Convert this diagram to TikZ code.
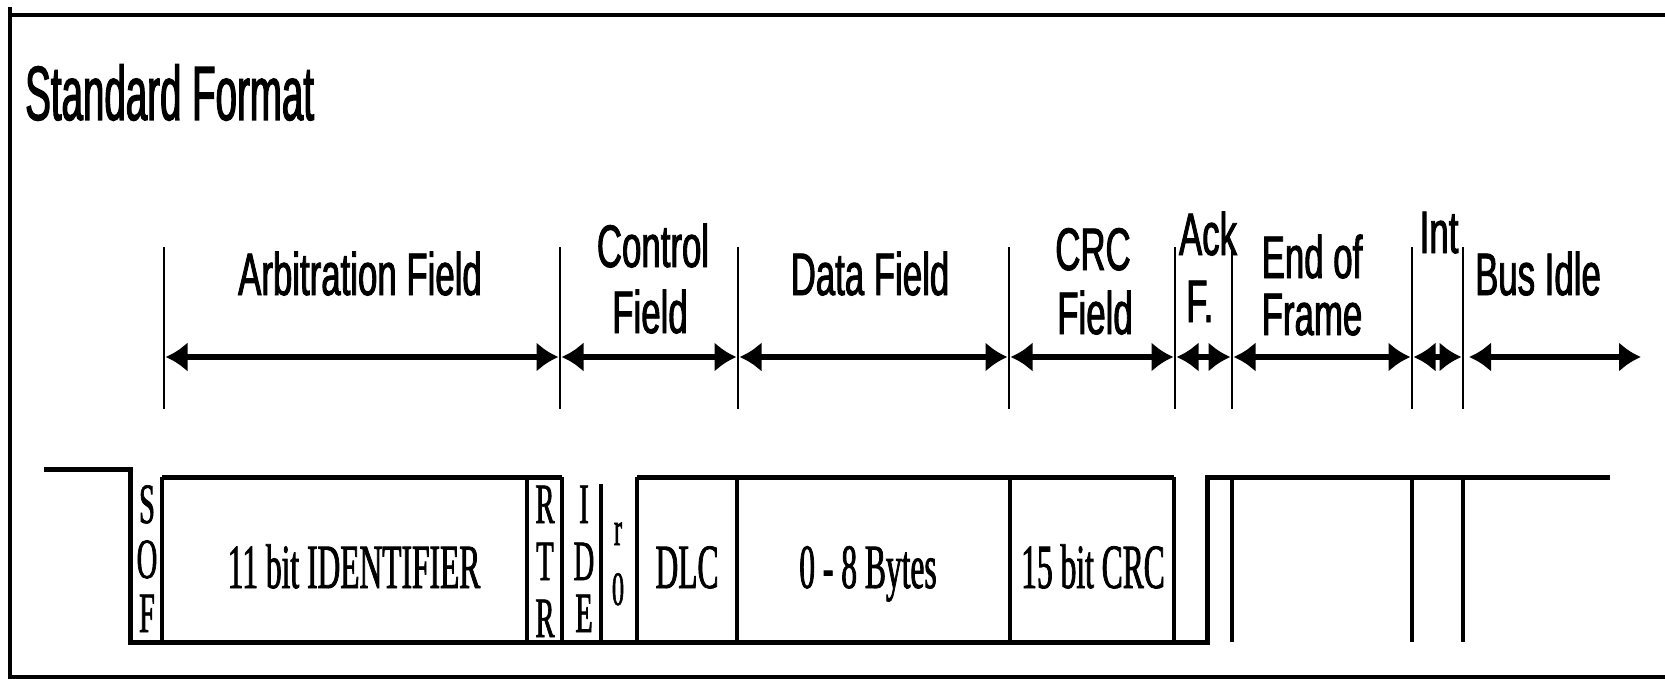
\documentclass[tikz,border=0pt]{standalone}
\usepackage{fontspec}
\newfontfamily\titlefont[FakeStretch=0.5,FakeBold=1.5]{Liberation Sans}
\newfontfamily\lblfont[FakeStretch=0.58,FakeBold=1.5]{Liberation Sans}
\newfontfamily\boxfont[FakeStretch=0.5,FakeBold=1.2]{Liberation Serif}
\usetikzlibrary{arrows.meta}
\begin{document}
\begin{tikzpicture}[x=1pt,y=-1pt,
  frameline/.style={line width=4.5pt},
  tickline/.style={line width=2.5pt},
  wave/.style={line width=5pt},
  sepline/.style={line width=3.5pt},
  span/.style={line width=6pt,{Latex[length=22pt,width=30pt]}-{Latex[length=22pt,width=30pt]}},
  lbl/.style={font=\lblfont\fontsize{60}{62}\selectfont,inner sep=0pt,anchor=base},
  boxtxt/.style={font=\boxfont\fontsize{63}{65}\selectfont,inner sep=0pt,anchor=base},
  letter/.style={font=\boxfont\fontsize{57}{60}\selectfont,inner sep=0pt,anchor=base},
  small/.style={font=\boxfont\fontsize{48}{50}\selectfont,inner sep=0pt,anchor=base},
]
\useasboundingbox (0,0) rectangle (1665,679);
% frame
\draw[frameline] (10,7) -- (10,679);
\draw[frameline] (8,15) -- (1665,15);
\draw[frameline] (8,677) -- (1665,677);
% title
\node[font=\titlefont\fontsize{77}{80}\selectfont,inner sep=0pt,anchor=base west] (title) at (25,120) {Standard Format};
% tick marks
\foreach \n/\x in {1/164,2/560,3/738,4/1009,5/1175,6/1232,7/1412,8/1463}{
  \coordinate (tt\n) at (\x,247);
  \coordinate (tb\n) at (\x,409);
  \coordinate (tl\n) at (\x+1.5,357);
  \coordinate (tr\n) at (\x-1.5,357);
  \draw[tickline] (tt\n) -- (tb\n);
}
\coordinate (busL) at (1469,357);
\coordinate (busR) at (1641,357);
% span arrows
\draw[span] (tl1) -- (tr2);
\draw[span] (tl2) -- (tr3);
\draw[span] (tl3) -- (tr4);
\draw[span] (tl4) -- (tr5);
\draw[span] (tl5) -- (tr6);
\draw[span] (tl6) -- (tr7);
\draw[span] (tl7) -- (tr8);
\draw[span] (busL) -- (busR);
% field labels
\node[lbl] (arb) at (360,295) {Arbitration Field};
\node[lbl] (ctl1) at (653,267) {Control};
\node[lbl] (ctl2) at (650,333) {Field};
\node[lbl] (data) at (870,295) {Data Field};
\node[lbl] (crc1) at (1093,270) {CRC};
\node[lbl] (crc2) at (1095,334) {Field};
\node[lbl] (ack1) at (1208,255) {Ack};
\node[lbl,anchor=base west] (ack2) at (1186,322) {F.};
\node[lbl] (eof1) at (1312,278) {End of};
\node[lbl] (eof2) at (1312,335) {Frame};
\node[lbl] (int) at (1439,253) {Int};
\node[lbl] (idle) at (1538,295) {Bus Idle};
% waveform
\coordinate (w0) at (44,469);
\coordinate (w1) at (130,469);
\coordinate (w2) at (130,642);
\coordinate (w3) at (1207,642);
\coordinate (w4) at (1207,477);
\coordinate (w5) at (1610,477);
\draw[wave,line join=miter] (w0) -- (w1) -- (w2) -- (w3) -- (w4) -- (w5);
\coordinate (b0) at (162,477);
\coordinate (b1) at (562,477);
\coordinate (b2) at (637,477);
\coordinate (b3) at (1174,477);
\draw[wave] (b0) -- (b1);
\draw[wave] (b2) -- (b3);
\foreach \x in {162,527,562,637,737,1010,1174,1232,1412,1463}{
  \draw[sepline] (\x,477) -- (\x,642);
}
\draw[sepline] (601,484) -- (601,642);
% SOF, RTR, IDE letters
\node[letter] (s1) at (147,523) {S};
\node[letter] (s2) at (147,578) {O};
\node[letter] (s3) at (147,632) {F};
\node[letter] (r1) at (545,523) {R};
\node[letter] (r2) at (545,580) {T};
\node[letter] (r3) at (545,637) {R};
\node[letter] (i1) at (584,523) {I};
\node[letter] (i2) at (584,580) {D};
\node[letter] (i3) at (584,632) {E};
\node[small] (r0a) at (618,545) {r};
\node[small] (r0b) at (618,605) {0};
% box texts
\node[boxtxt] (ident) at (354,588) {11 bit IDENTIFIER};
\node[boxtxt] (dlc) at (687,588) {DLC};
\node[boxtxt] (bytes) at (868,588) {0 - 8 Bytes};
\node[boxtxt] (crc) at (1093,588) {15 bit CRC};
\end{tikzpicture}
\end{document}
